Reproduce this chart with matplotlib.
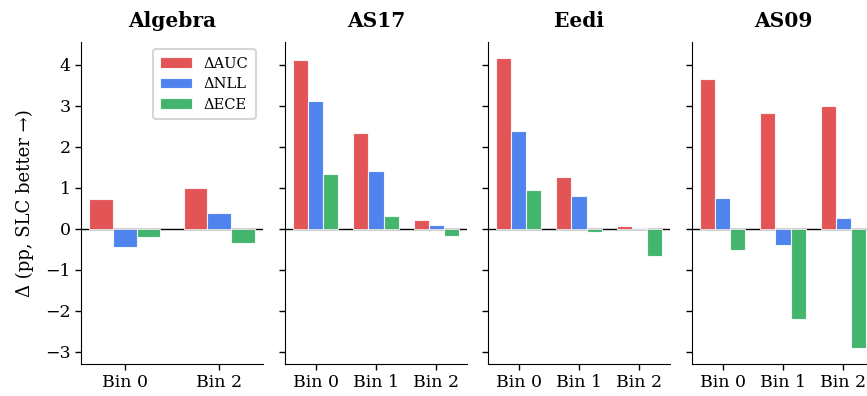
import matplotlib
matplotlib.use("Agg")
import matplotlib.pyplot as plt
import numpy as np

plt.rcParams['font.family'] = ['DejaVu Serif']
plt.rcParams['axes.unicode_minus'] = True

datasets = ["Algebra", "AS17", "Eedi", "AS09"]
bins = {
    "Algebra": ["Bin 0", "Bin 2"],
    "AS17": ["Bin 0", "Bin 1", "Bin 2"],
    "Eedi": ["Bin 0", "Bin 1", "Bin 2"],
    "AS09": ["Bin 0", "Bin 1", "Bin 2"],
}
metrics = ["ΔAUC", "ΔNLL", "ΔECE"]
d_auc = {
    "Algebra": [0.73, 0.99],
    "AS17": [4.11, 2.34, 0.22],
    "Eedi": [4.15, 1.27, 0.06],
    "AS09": [3.64, 2.82, 2.99],
}
d_nll = {
    "Algebra": [-0.44, 0.37],
    "AS17": [3.10, 1.41, 0.10],
    "Eedi": [2.38, 0.80, 0.005],
    "AS09": [0.74, -0.40, 0.25],
}
d_ece = {
    "Algebra": [-0.20, -0.34],
    "AS17": [1.33, 0.32, -0.19],
    "Eedi": [0.95, -0.07, -0.67],
    "AS09": [-0.53, -2.21, -2.91],
}
colors = ["#DF3638", "#306DEB", "#22A854"]

W, H = 867, 396
fig = plt.figure(figsize=(W / 100, H / 100), dpi=100)
lefts = [81, 285, 488, 692]
aw = 182
top, bot = 42, 364
axes = []
for i, name in enumerate(datasets):
    if i == 0:
        ax = fig.add_axes([lefts[i] / W, 1 - bot / H, aw / W, (bot - top) / H])
        ax0 = ax
    else:
        ax = fig.add_axes([lefts[i] / W, 1 - bot / H, aw / W, (bot - top) / H], sharey=ax0)
    axes.append(ax)
    x = np.arange(len(bins[name]))
    w = 0.25
    series = [d_auc[name], d_nll[name], d_ece[name]]
    ax.axhline(0, color="black", lw=1.0, zorder=1)
    for k, (vals, c, lab) in enumerate(zip(series, colors, metrics)):
        ax.bar(x + (k - 1) * w, vals, width=w, color=c, alpha=0.85,
               edgecolor="white", linewidth=0.8, label=lab, zorder=2)
    ax.set_xticks(x)
    ax.set_xticklabels(bins[name])
    ax.set_title(name, fontsize=14.5, fontweight="bold", pad=11)
    for s in ["top", "right"]:
        ax.spines[s].set_visible(False)
    ax.tick_params(axis="both", direction="out", length=4, width=1, labelsize=12.5)
    if i > 0:
        ax.tick_params(axis="y", labelleft=False)

ax0.set_ylim(-3.3, 4.55)
ax0.set_yticks(range(-3, 5))
ax0.set_ylabel("Δ (pp, SLC better →)", fontsize=13, labelpad=8)
leg = ax0.legend(loc="upper right", fontsize=10.5, frameon=True, fancybox=True,
                 handlelength=2.2, borderpad=0.5, labelspacing=0.45)
leg.get_frame().set_edgecolor("#cccccc")
leg.get_frame().set_linewidth(1.5)

fig.savefig("out.png", dpi=100)
